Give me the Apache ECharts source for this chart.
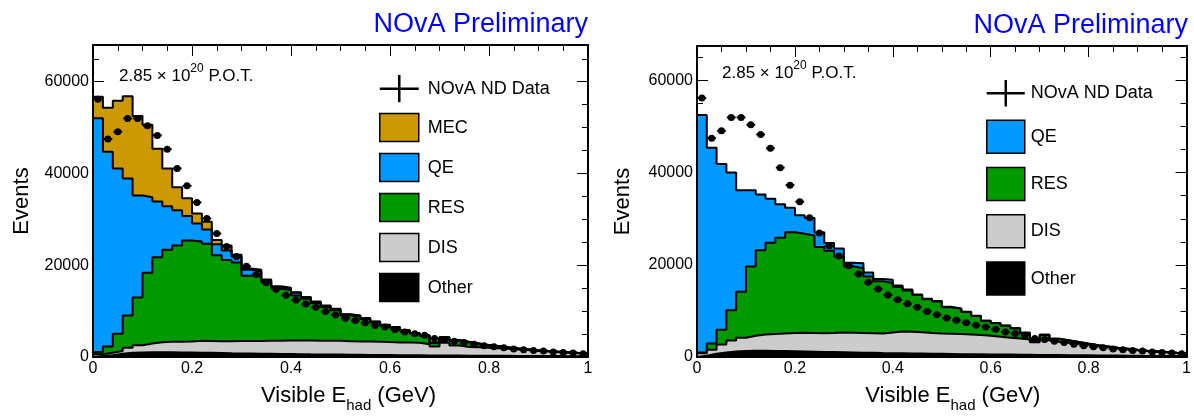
<!DOCTYPE html>
<html>
<head>
<meta charset="utf-8">
<script src="https://cdn.jsdelivr.net/npm/echarts@6/dist/echarts.min.js"></script>
<style>
  html, body { margin: 0; padding: 0; background: #ffffff; }
  #chart { width: 1194px; height: 418px; }
</style>
</head>
<body>
<div id="chart"></div>
<script>
// ---------------- DATA ----------------
const binEdges = [0, 0.02, 0.04, 0.06, 0.08, 0.10, 0.12, 0.14, 0.16, 0.18,
  0.20, 0.22, 0.24, 0.26, 0.28, 0.30, 0.32, 0.34, 0.36, 0.38,
  0.40, 0.42, 0.44, 0.46, 0.48, 0.50, 0.52, 0.54, 0.56, 0.58,
  0.60, 0.62, 0.64, 0.66, 0.68, 0.70, 0.72, 0.74, 0.76, 0.78,
  0.80, 0.82, 0.84, 0.86, 0.88, 0.90, 0.92, 0.94, 0.96, 0.98, 1.00];

const xTicks = [0, 0.2, 0.4, 0.6, 0.8, 1];
const yTicks = [0, 20000, 40000, 60000];

// NOvA ND data (same in both panels)
const ndData = [56200, 47500, 49100, 52000, 52000, 50400, 48300, 45300, 41100, 37300,
  33700, 30200, 26900, 24100, 21900, 19800, 18000, 16200, 14770, 13480,
  12400, 11540, 10820, 9890, 9180, 8460, 7960, 7460, 6880, 6520,
  6020, 5440, 5090, 4730, 4010, 3800, 3440, 3150, 2790, 2440,
  2220, 2000, 1720, 1580, 1430, 1290, 1080, 1000, 860, 720];

// Left panel simulation components
const leftOther = [200, 400, 700, 900, 1000, 1050, 1050, 1030, 1000, 970,
  940, 900, 860, 820, 790, 760, 730, 700, 670, 640,
  610, 580, 560, 540, 520, 500, 480, 460, 440, 420,
  400, 380, 360, 340, 320, 310, 300, 290, 280, 270,
  260, 250, 240, 230, 220, 210, 200, 190, 180, 170];
const leftDIS = [400, 550, 600, 1100, 1580, 1890, 2180, 2270, 2330, 2400,
  2610, 2600, 2580, 2620, 2670, 2720, 2770, 2820, 2870, 2940,
  2990, 3000, 3000, 3000, 3000, 2950, 2920, 2910, 2890, 2830,
  2780, 2770, 2740, 2460, 1980, 2790, 2200, 1910, 1820, 1730,
  1640, 1550, 1410, 1270, 1130, 990, 880, 770, 680, 610];
const leftRES = [500, 1350, 3790, 7030, 10390, 15410, 18490, 20070, 20970, 22010,
  21610, 21160, 18760, 17710, 17140, 14220, 14100, 12780, 11360, 11020,
  9800, 9120, 8190, 7360, 6680, 5600, 5400, 4930, 4220, 3650,
  3220, 2550, 2000, 1800, 800, 1150, 1120, 1050, 800, 560,
  440, 270, 190, 140, 85, 85, 70, 50, 32, 32];
const leftQE = [50940, 42430, 35990, 29890, 22230, 16490, 12190, 9460, 7670, 5370,
  3940, 3150, 2400, 2050, 1300, 1300, 1100, 400, 300, 300,
  600, 300, 250, 200, 200, 200, 200, 150, 150, 100,
  100, 100, 100, 100, 30, 50, 60, 40, 40, 30,
  30, 20, 20, 15, 10, 10, 8, 7, 5, 5];
const leftMEC = [4660, 9610, 14770, 17920, 17340, 15760, 11470, 8250, 5020, 3870,
  2150, 1650, 920, 1100, 400, 300, 300, 200, 200, 200,
  100, 100, 100, 100, 100, 50, 50, 50, 50, 50,
  50, 50, 50, 50, 20, 30, 20, 10, 10, 10,
  10, 10, 10, 5, 5, 5, 2, 3, 3, 3];

// Right panel simulation components (no MEC)
const rightOther = [300, 700, 1000, 1200, 1300, 1350, 1350, 1320, 1280, 1240,
  1200, 1150, 1100, 1060, 1020, 980, 940, 900, 860, 830,
  800, 770, 740, 710, 680, 650, 620, 600, 580, 560,
  540, 520, 500, 480, 460, 440, 420, 400, 380, 360,
  340, 320, 300, 280, 260, 240, 220, 210, 200, 190];
const rightDIS = [500, 900, 1700, 2400, 2900, 3250, 3550, 3680, 3820, 3960,
  4050, 4050, 4050, 4140, 4280, 4270, 4260, 4250, 4240, 4470,
  4750, 4730, 4610, 4490, 4420, 4400, 4380, 4300, 4170, 4040,
  3860, 3680, 3500, 3320, 2740, 3210, 2880, 2700, 2520, 2290,
  2060, 1830, 1600, 1420, 1240, 1060, 950, 830, 700, 580];
const rightRES = [200, 1320, 3200, 6570, 9950, 15020, 18280, 19820, 20780, 21890,
  21490, 21180, 18740, 17840, 16460, 14370, 14070, 12340, 11320, 10770,
  9670, 8950, 8100, 7350, 6950, 5750, 5450, 4850, 4150, 3250,
  2950, 2600, 2230, 1440, 450, 1170, 660, 510, 355, 250,
  150, 122, 85, 76, 57, 47, 38, 28, 18, 8];
const rightQE = [51540, 42510, 35980, 29860, 22040, 16570, 12090, 9520, 7250, 5330,
  4050, 3770, 3200, 1700, 1780, 860, 1060, 850, 500, 710,
  280, 200, 130, 110, 110, 80, 70, 60, 60, 40,
  40, 30, 30, 20, 30, 20, 20, 20, 15, 10,
  10, 8, 5, 4, 3, 3, 2, 2, 2, 2];

// ---------------- STYLE ----------------
const FONT = "'Liberation Sans', Arial, Helvetica, sans-serif";
const COLORS = { MEC: '#cc9900', QE: '#0099ff', RES: '#009900', DIS: '#cccccc', Other: '#000000' };

// ---------------- HELPERS ----------------
function cumulative(list) { // bottom -> top
  const out = [];
  let run = list[0].map(() => 0);
  list.forEach(a => { run = run.map((v, i) => v + a[i]); out.push(run.slice()); });
  return out;
}
function stepData(vals) {
  const d = [[binEdges[0], 0]];
  vals.forEach((v, i) => d.push([binEdges[i], v]));
  d.push([binEdges[binEdges.length - 1], vals[vals.length - 1]]);
  d.push([binEdges[binEdges.length - 1], 0]);
  return d;
}
const centers = ndData.map((v, i) => (binEdges[i] + binEdges[i + 1]) / 2);
const dataPoints = ndData.map((v, i) => [centers[i], v]);

function histSeries(names, comps, xi, yi) {
  const cum = cumulative(comps); // bottom->top
  const out = [];
  for (let k = comps.length - 1; k >= 0; k--) {
    out.push({
      type: 'line', name: names[k], xAxisIndex: xi, yAxisIndex: yi,
      data: stepData(cum[k]), step: 'end', symbol: 'none', silent: true,
      color: COLORS[names[k]],
      lineStyle: { color: '#000', width: 2 },
      areaStyle: { color: COLORS[names[k]], opacity: 1, origin: 'start' },
      emphasis: { disabled: true }, animation: false
    });
  }
  return out;
}
function dataSeries(xi, yi) {
  return {
    type: 'custom', name: 'NOvA ND Data', xAxisIndex: xi, yAxisIndex: yi,
    data: dataPoints, z: 5, animation: false, silent: true,
    encode: { x: 0, y: 1 },
    renderItem: function (params, api) {
      const x = api.value(0), y = api.value(1);
      const c = api.coord([x, y]);
      const l = api.coord([x - 0.009, y]);
      const r = api.coord([x + 0.009, y]);
      return {
        type: 'group', children: [
          { type: 'line', shape: { x1: l[0], y1: c[1], x2: r[0], y2: c[1] }, style: { stroke: '#000', lineWidth: 2 } },
          { type: 'circle', shape: { cx: c[0], cy: c[1], r: 3.5 }, style: { fill: '#000' } }
        ]
      };
    }
  };
}
function xAxis(grid, pos, main, padLeft) {
  const ax = {
    type: 'value', gridIndex: grid, position: pos, min: xTicks[0], max: xTicks[xTicks.length - 1], interval: xTicks[1] - xTicks[0],
    axisLine: { show: true, onZero: false, lineStyle: { color: '#000', width: 2 } },
    axisTick: { show: true, inside: true, length: 11, lineStyle: { color: '#000', width: 1 } },
    minorTick: { show: true, splitNumber: 4, length: 6, lineStyle: { color: '#000', width: 1 } },
    axisLabel: { show: main, margin: 4, fontSize: 16, color: '#000', fontFamily: FONT, formatter: v => String(v) },
    splitLine: { show: false }, minorSplitLine: { show: false }
  };
  if (main) {
    ax.name = '{a|Visible E}{b|had}{a| (GeV)}';
    ax.nameLocation = 'middle';
    ax.nameGap = 22;
    ax.nameTextStyle = {
      padding: [0, 0, 0, padLeft],
      rich: {
        a: { fontSize: 22, lineHeight: 34, fontFamily: FONT, color: '#000' },
        b: { fontSize: 15, lineHeight: 14, verticalAlign: 'bottom', fontFamily: FONT, color: '#000' }
      }
    };
  }
  return ax;
}
function yAxis(grid, pos, max, major, labels, nameGap) {
  const ax = {
    type: 'value', gridIndex: grid, position: pos, min: 0, max: max, interval: major ? (yTicks[1] - yTicks[0]) : 5000,
    axisLine: { show: major, onZero: false, lineStyle: { color: '#000', width: 2 } },
    axisTick: { show: true, inside: true, length: major ? 11 : 6, lineStyle: { color: '#000', width: 1 } },
    axisLabel: { show: labels, showMaxLabel: false, margin: 4, fontSize: 16, color: '#000', fontFamily: FONT, formatter: v => String(v) },
    splitLine: { show: false }
  };
  if (labels) {
    ax.name = 'Events';
    ax.nameLocation = 'middle';
    ax.nameGap = nameGap;
    ax.nameTextStyle = { fontSize: 22, color: '#000', fontFamily: FONT };
  }
  return ax;
}
const crossIcon = 'path://M0,12.7H40V15.3H0Z M18.7,0H21.3V28H18.7Z';
function legendData(names) {
  const d = [{ name: 'NOvA ND Data', icon: crossIcon, itemStyle: { color: '#000', borderWidth: 0 } }];
  names.forEach(n => d.push({ name: n, icon: 'rect', itemStyle: { color: COLORS[n], borderColor: '#000', borderWidth: 1.5 } }));
  return d;
}

const leftNames = ['Other', 'DIS', 'RES', 'QE', 'MEC'];
const rightNames = ['Other', 'DIS', 'RES', 'QE'];

const option = {
  backgroundColor: '#ffffff',
  animation: false,
  textStyle: { fontFamily: FONT },
  title: [
    { text: 'NOvA Preliminary', right: 606, top: 11, padding: 0, textStyle: { color: '#0000ff', fontSize: 27, fontWeight: 'normal', fontFamily: FONT } },
    { text: 'NOvA Preliminary', right: 6, top: 12, padding: 0, textStyle: { color: '#0000ff', fontSize: 27, fontWeight: 'normal', fontFamily: FONT } }
  ],
  grid: [
    { left: 93, top: 45, width: 495, height: 317, containLabel: false },
    { left: 697, top: 46, width: 491, height: 316, containLabel: false }
  ],
  xAxis: [
    xAxis(0, 'bottom', true, 16),
    xAxis(0, 'top', false, 0),
    xAxis(1, 'bottom', true, 22),
    xAxis(1, 'top', false, 0)
  ],
  yAxis: [
    yAxis(0, 'left', 68000, true, true, 60),
    yAxis(0, 'left', 68000, false, false),
    yAxis(0, 'right', 68000, true, false),
    yAxis(0, 'right', 68000, false, false),
    yAxis(1, 'left', 67500, true, true, 63),
    yAxis(1, 'left', 67500, false, false),
    yAxis(1, 'right', 67500, true, false),
    yAxis(1, 'right', 67500, false, false)
  ],
  legend: [
    {
      orient: 'vertical', left: 379, top: 75, itemWidth: 39, itemHeight: 28, itemGap: 10.5, padding: 0,
      selectedMode: false, textStyle: { fontSize: 18, color: '#000', fontFamily: FONT, padding: [0, 0, 0, 4] },
      data: legendData(['MEC', 'QE', 'RES', 'DIS', 'Other'])
    },
    {
      orient: 'vertical', left: 986, top: 80, itemWidth: 38, itemHeight: 33, itemGap: 12.8, padding: 0,
      selectedMode: false, textStyle: { fontSize: 18, color: '#000', fontFamily: FONT, padding: [0, 0, 0, 1] },
      data: legendData(['QE', 'RES', 'DIS', 'Other'])
    }
  ],
  graphic: [
    { type: 'text', left: 119, top: 63, style: { text: '{a|2.85 × 10}{s|20}{a| P.O.T.}', rich: {
      a: { fontSize: 17, lineHeight: 26, fontFamily: FONT, fill: '#000' },
      s: { fontSize: 12, lineHeight: 12, verticalAlign: 'top', fontFamily: FONT, fill: '#000' } } } },
    { type: 'text', left: 722, top: 60, style: { text: '{a|2.85 × 10}{s|20}{a| P.O.T.}', rich: {
      a: { fontSize: 17, lineHeight: 26, fontFamily: FONT, fill: '#000' },
      s: { fontSize: 12, lineHeight: 12, verticalAlign: 'top', fontFamily: FONT, fill: '#000' } } } }
  ],
  series: [
    ...histSeries(leftNames, [leftOther, leftDIS, leftRES, leftQE, leftMEC], 0, 0),
    dataSeries(0, 0),
    ...histSeries(rightNames, [rightOther, rightDIS, rightRES, rightQE], 2, 4),
    dataSeries(2, 4)
  ]
};

const chart = echarts.init(document.getElementById('chart'), null, { renderer: 'canvas' });
chart.setOption(option);
</script>
</body>
</html>
